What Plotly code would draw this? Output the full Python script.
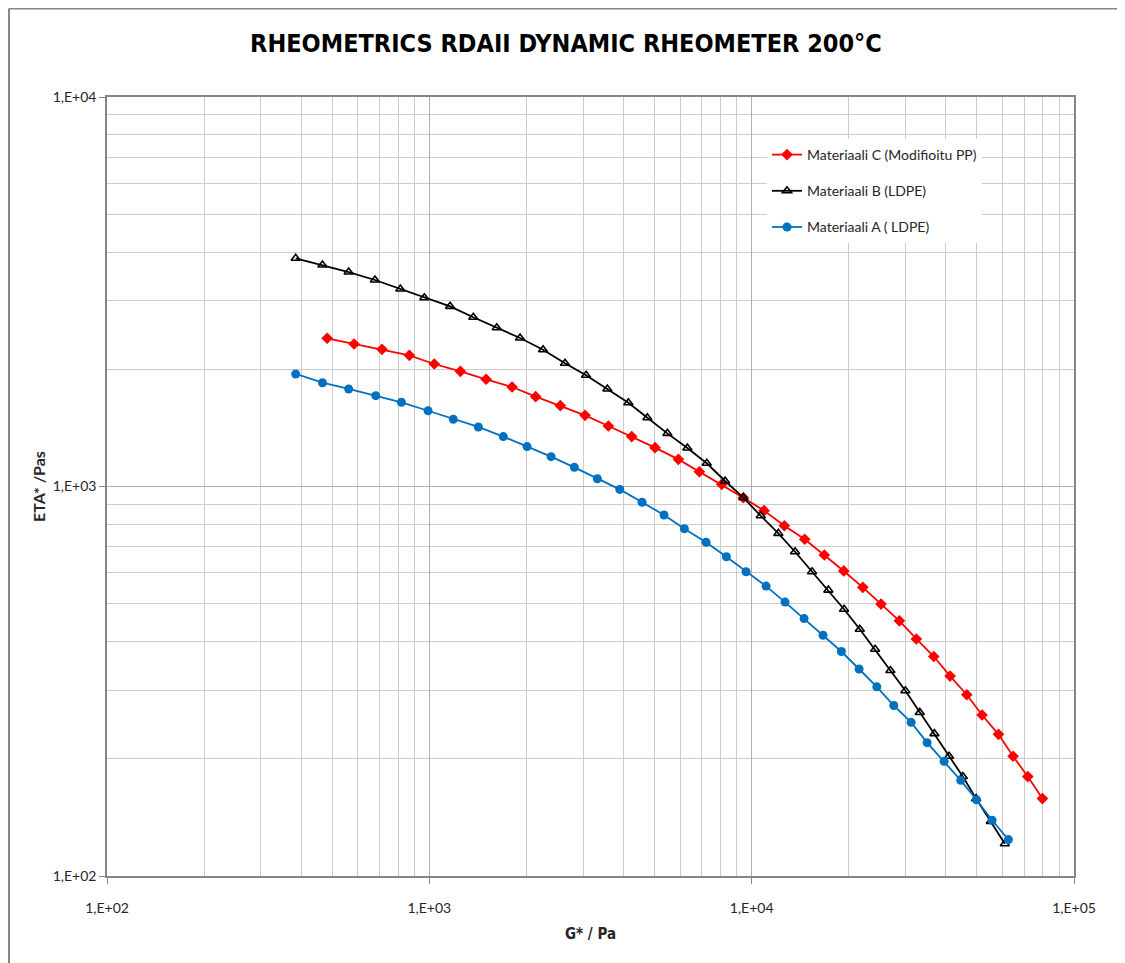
import plotly.graph_objects as go

# Materiaali C (Modifioitu PP)
c_g = [482, 584, 713, 867, 1036, 1248, 1500, 1806, 2138, 2550, 3041, 3593, 4246,
       5015, 5924, 6882, 8076, 9424, 10926, 12630, 14606, 16810, 19310, 22120,
       25200, 28730, 32430, 36730, 41270, 46500, 51860, 58300, 64710, 71880, 79800]
c_eta = [2402, 2322, 2250, 2172, 2063, 1976, 1885, 1801, 1701, 1613, 1523, 1430, 1343,
         1258, 1174, 1091, 1013, 936, 867, 793, 732, 667, 607, 551,
         499, 452, 406, 366, 326, 292, 259, 231, 203, 180, 158]

# Materiaali B (LDPE)
b_g = [385, 466, 562, 678, 813, 965, 1160, 1369, 1619, 1912, 2253, 2636, 3064, 3567,
       4144, 4747, 5477, 6317, 7255, 8271, 9424, 10672, 12100, 13633, 15393, 17298,
       19350, 21650, 24150, 26940, 29990, 33230, 36890, 40970, 45190, 49690, 55200, 61000]
b_eta = [3854, 3704, 3553, 3390, 3215, 3052, 2901, 2719, 2557, 2406, 2245, 2072, 1930, 1780,
         1641, 1502, 1369, 1256, 1147, 1033, 936, 841, 758, 680, 604, 542,
         484, 430, 382, 337, 299, 263, 232, 203, 180, 158, 138, 121]

# Materiaali A ( LDPE)
a_g = [385, 466, 562, 682, 819, 991, 1187, 1419, 1696, 2010, 2386, 2818, 3321, 3898, 4571,
       5348, 6183, 7219, 8347, 9608, 11083, 12690, 14540, 16650, 18980, 21540, 24450,
       27600, 31240, 35010, 39540, 44530, 49810, 55690, 62590]
a_eta = [1945, 1847, 1780, 1711, 1645, 1565, 1488, 1422, 1343, 1266, 1193, 1120, 1047, 983, 911,
         845, 779, 719, 660, 604, 555, 505, 458, 415, 377, 340, 306,
         274, 248, 220, 197, 176, 157, 139, 124]

x_tickvals = [1e2, 1e3, 1e4, 1e5]
x_ticktext = ["1,E+02", "1,E+03", "1,E+04", "1,E+05"]
y_tickvals = [1e2, 1e3, 1e4]
y_ticktext = ["1,E+02", "1,E+03", "1,E+04"]

W, H = 1117, 955
ML, MR, MT, MB = 99, 51, 89, 87
PW, PH = W - ML - MR, H - MT - MB

fig = go.Figure()
fig.add_trace(go.Scatter(x=c_g, y=c_eta, mode="lines+markers", name="Materiaali C (Modifioitu PP)",
                         legendgroup="c",
                         line=dict(color="#FF0000", width=1.8),
                         marker=dict(symbol="diamond", size=9, color="#FF0000")))
fig.add_trace(go.Scatter(x=b_g, y=b_eta, mode="lines+markers", name="Materiaali B (LDPE)",
                         legendgroup="b",
                         line=dict(color="#000000", width=1.8),
                         marker=dict(symbol="triangle-up-open", size=8, color="#000000",
                                     line=dict(width=1.6, color="#000000"))))
fig.add_trace(go.Scatter(x=a_g, y=a_eta, mode="lines+markers", name="Materiaali A ( LDPE)",
                         legendgroup="a",
                         line=dict(color="#0070C0", width=1.8),
                         marker=dict(symbol="circle", size=9, color="#0070C0")))

axis_common = dict(
    type="log",
    showline=True, linecolor="#868686", linewidth=1.5, mirror=True,
    showgrid=True, gridcolor="#B0B0B0", gridwidth=1,
    ticks="outside", ticklen=6, tickcolor="#868686",
    tickmode="array",
    minor=dict(dtick="D1", showgrid=True, gridcolor="#CCCCCC", gridwidth=1, ticks=""),
    zeroline=False,
    tickfont=dict(family="Lato, Carlito, Arial", size=14, color="#262626"),
)

fig.update_xaxes(**axis_common, range=[2, 5], tickvals=x_tickvals, ticktext=x_ticktext,
                 ticklabelstandoff=12,
                 title=dict(text="<b>G* / Pa</b>", standoff=14,
                            font=dict(family="DejaVu Sans Condensed, Lato", size=15, color="#262626")))
fig.update_yaxes(**axis_common, range=[2, 4], tickvals=y_tickvals, ticktext=y_ticktext,
                 title=dict(text="<b>ETA* /Pas</b>", standoff=3,
                            font=dict(family="Lato, Carlito, Arial", size=16, color="#262626")))

fig.update_layout(
    width=W, height=H,
    margin=dict(l=ML, r=MR, t=MT, b=MB),
    paper_bgcolor="white", plot_bgcolor="white",
    title=dict(text="<b>RHEOMETRICS RDAII DYNAMIC RHEOMETER 200°C</b>",
               x=(566 - 8) / W, xanchor="center", y=1 - 35 / H, yanchor="middle",
               font=dict(family="DejaVu Sans Condensed, DejaVu Sans", size=25, color="#000000")),
    legend=dict(x=(767 - 8 - ML) / PW, y=(MT + PH - (139 - 8)) / PH, xanchor="left", yanchor="top",
                bgcolor="white", borderwidth=0,
                traceorder="grouped", tracegroupgap=15,
                font=dict(family="Lato, Carlito, Arial", size=14, color="#262626")),
    showlegend=True,
    shapes=[
        dict(type="line", xref="paper", yref="paper",
             x0=(1 - ML) / PW, x1=(W - ML) / PW, y0=(MT + PH - 0.5) / PH, y1=(MT + PH - 0.5) / PH,
             line=dict(color="#868686", width=2)),
        dict(type="line", xref="paper", yref="paper",
             x0=(1 - ML) / PW, x1=(1 - ML) / PW, y0=(MT + PH - 0.5) / PH, y1=-MB / PH,
             line=dict(color="#868686", width=2)),
    ],
)

fig.write_html("out.html")
